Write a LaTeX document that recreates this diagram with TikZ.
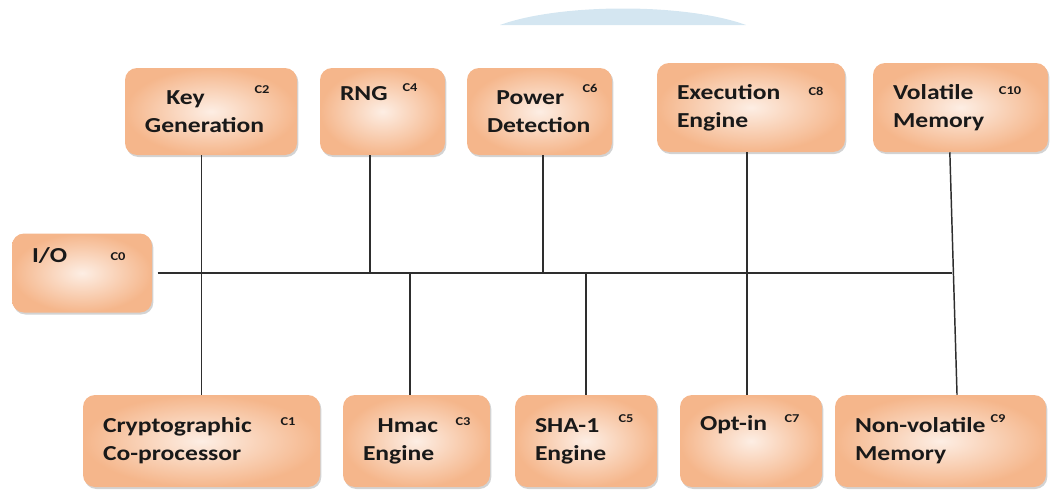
\documentclass[tikz,border=0pt]{standalone}
\usepackage{fontspec}
\setmainfont{Carlito}[FakeStretch=1.2]
\usetikzlibrary{shadows}

\definecolor{peach}{HTML}{F5B68B}
\definecolor{peachlight}{HTML}{FDEEE4}
\definecolor{busgray}{HTML}{2E2E2E}
\definecolor{capblue}{HTML}{D4E6F1}

\begin{document}
\begin{tikzpicture}[
  x=0.75pt, y=-0.75pt,
  unit/.style={
    rectangle, rounded corners=9pt,
    inner color=peachlight, outer color=peach,
    drop shadow={shadow xshift=1pt, shadow yshift=-1.5pt, opacity=0.35},
    align=left, inner xsep=15pt, inner ysep=0pt,
    text=black!90, font=\bfseries\fontsize{16}{21}\selectfont
  },
  tag/.style={inner sep=0pt, text=black!90, font=\bfseries\fontsize{9}{9}\selectfont},
  wire/.style={draw=busgray, line width=1.1pt},
]
  \useasboundingbox (0,0) rectangle (1051,493);

  \fill[capblue] (500,25) .. controls (560,3) and (686,3) .. (746,25) -- cycle;

  \node[unit, minimum width=105pt, minimum height=59.25pt, text width=75pt] (io) at (82,273) {I/O\\\strut};

  \node[unit, minimum width=129pt, minimum height=65.25pt, text width=99pt] (keygen) at (211,111.5) {\hspace*{16pt}Key\\Generation};
  \node[unit, minimum width=93.75pt, minimum height=65.25pt, text width=63.75pt] (rng) at (382.5,111.5) {RNG\\\strut};
  \node[unit, minimum width=108.75pt, minimum height=65.25pt, text width=78.75pt] (power) at (539.5,111.5) {\hspace*{7pt}Power\\Detection};
  \node[unit, minimum width=141pt, minimum height=66.75pt, text width=111pt] (exec) at (751,107.5) {Execution\\Engine};
  \node[unit, minimum width=131.25pt, minimum height=66.75pt, text width=101.25pt] (volatile) at (960.5,107.5) {Volatile\\Memory};

  \node[unit, minimum width=177.75pt, minimum height=69pt, text width=147.75pt] (crypto) at (201.5,441) {Cryptographic\\Co-processor};
  \node[unit, minimum width=110.25pt, minimum height=69pt, text width=80.25pt] (hmac) at (416.5,441) {\hspace*{11pt}Hmac\\Engine};
  \node[unit, minimum width=106.5pt, minimum height=69pt, text width=76.5pt] (sha) at (586,441) {SHA-1\\Engine};
  \node[unit, minimum width=106.5pt, minimum height=69pt, text width=76.5pt] (optin) at (751,441) {Opt-in\\\strut};
  \node[unit, minimum width=158.25pt, minimum height=69pt, text width=128.25pt] (nonvol) at (940.5,441) {Non-volatile\\Memory};

  \node[tag] (c0) at (118,257) {C0};
  \node[tag] (c1) at (288,422) {C1};
  \node[tag] (c2) at (262,90) {C2};
  \node[tag] (c3) at (463,422) {C3};
  \node[tag] (c4) at (410,88) {C4};
  \node[tag] (c5) at (626,419) {C5};
  \node[tag] (c6) at (590,88) {C6};
  \node[tag] (c7) at (792,419) {C7};
  \node[tag] (c8) at (816,91) {C8};
  \node[tag] (c9) at (998,419) {C9};
  \node[tag] (c10) at (1010,91) {C10};

  \coordinate (busend) at (952,273);
  \draw[wire] ([xshift=4pt]io.east) -- (busend);
  \draw[wire] (keygen.south -| crypto.north) -- (crypto.north);
  \draw[wire] ([xshift=-9.4pt]rng.south) -- ([xshift=-9.4pt]rng.south |- busend);
  \draw[wire] ([xshift=-5pt]hmac.north |- busend) -- ([xshift=-5pt]hmac.north);
  \draw[wire] ([xshift=2.6pt]power.south) -- ([xshift=2.6pt]power.south |- busend);
  \draw[wire] (sha.north |- busend) -- (sha.north);
  \draw[wire] ([xshift=-3pt]exec.south) -- ([xshift=-3pt]optin.north);
  \draw[wire] ([xshift=-8pt]volatile.south) -- ([xshift=12.4pt]nonvol.north);
\end{tikzpicture}
\end{document}
